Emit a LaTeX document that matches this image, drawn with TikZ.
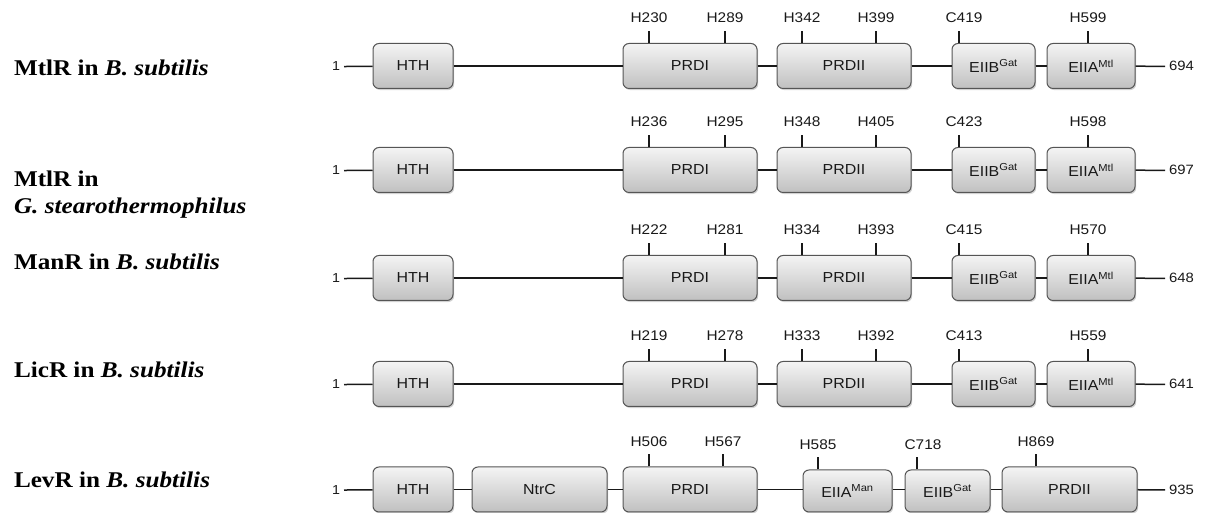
\documentclass[tikz,border=0pt]{standalone}
\usepackage{fontspec}
\setmainfont{Liberation Serif}[FakeStretch=1.12]
\setsansfont{Liberation Sans}[FakeStretch=1.1]
\usetikzlibrary{shadows}

\definecolor{lineColor}{RGB}{25,25,25}
\definecolor{boxColor}{RGB}{85,85,85}
\definecolor{boxTop}{RGB}{244,244,244}
\definecolor{boxBottom}{RGB}{192,192,192}

\tikzset{
  dombox/.style={draw=boxColor, line width=1pt, rounded corners=6pt,
    top color=boxTop, bottom color=boxBottom, minimum height=45pt,
    inner sep=0pt, text=lineColor, font=\sffamily\fontsize{14.5}{14.5}\selectfont,
    drop shadow={shadow xshift=1.2pt, shadow yshift=-1.6pt, opacity=0.35}},
  linker/.style={draw=lineColor, line width=1.5pt},
  sitetick/.style={draw=lineColor, line width=1.3pt},
  sitelbl/.style={text=lineColor, anchor=base, inner sep=0pt, outer sep=0pt,
    font=\sffamily\fontsize{14}{14}\selectfont},
  startlbl/.style={text=lineColor, anchor=base east, inner xsep=4pt, inner ysep=0pt,
    outer sep=0pt, font=\sffamily\fontsize{13}{13}\selectfont},
  endlbl/.style={text=lineColor, anchor=base west, inner xsep=4pt, inner ysep=0pt,
    outer sep=0pt, font=\sffamily\fontsize{13.5}{13.5}\selectfont},
  species/.style={anchor=base west, inner sep=0pt, outer sep=0pt,
    font=\bfseries\fontsize{22.5}{27}\selectfont},
}

\begin{document}
\begin{tikzpicture}[x=1pt,y=1pt]
\path[use as bounding box,fill=white] (0,0) rectangle (1205,513);

% species names
\node[species] (sp1) at (14,437.5) {MtlR in \textit{B. subtilis}};
\node[species] (sp2a) at (14,326.5) {MtlR in};
\node[species] (sp2b) at (14,299) {\textit{G. stearothermophilus}};
\node[species] (sp3) at (14,243) {ManR in \textit{B. subtilis}};
\node[species] (sp4) at (14,135) {LicR in \textit{B. subtilis}};
\node[species] (sp5) at (14,25) {LevR in \textit{B. subtilis}};

% MtlR, B. subtilis
\node[startlbl] (r1start) at (344,442) {1};
\node[dombox, minimum width=80pt] (r1hth) at (413,447) {HTH};
\node[dombox, minimum width=134pt] (r1prdi) at (690,447) {PRDI};
\node[dombox, minimum width=134pt] (r1prdii) at (844,447) {PRDII};
\node[dombox, minimum width=83pt] (r1eiib) at (993.5,447) {EIIB\textsuperscript{Gat}};
\node[dombox, minimum width=88pt] (r1eiia) at (1091,447) {EIIA\textsuperscript{Mtl}};
\node[endlbl] (r1end) at (1165,442) {694};
\draw[linker] (r1start.east) -- (r1hth);
\draw[linker] (r1hth) -- (r1prdi);
\draw[linker] (r1prdi) -- (r1prdii);
\draw[linker] (r1prdii) -- (r1eiib);
\draw[linker] (r1eiib) -- (r1eiia);
\draw[linker] (r1eiia) -- (r1end.west);
\node[sitelbl] (r1s1) at (649,490) {H230};
\node[sitelbl] (r1s2) at (725,490) {H289};
\node[sitelbl] (r1s3) at (802,490) {H342};
\node[sitelbl] (r1s4) at (876,490) {H399};
\node[sitelbl] (r1s5) at (964,490) {C419};
\node[sitelbl] (r1s6) at (1088,490) {H599};
\draw[sitetick] (r1prdi.north -| r1s1) -- ++(0,12);
\draw[sitetick] (r1prdi.north -| r1s2) -- ++(0,12);
\draw[sitetick] (r1prdii.north -| r1s3) -- ++(0,12);
\draw[sitetick] (r1prdii.north -| r1s4) -- ++(0,12);
\draw[sitetick] (r1eiib.north -| 959,0) -- ++(0,12);
\draw[sitetick] (r1eiia.north -| r1s6) -- ++(0,12);

% MtlR, G. stearothermophilus
\node[startlbl] (r2start) at (344,338) {1};
\node[dombox, minimum width=80pt] (r2hth) at (413,343) {HTH};
\node[dombox, minimum width=134pt] (r2prdi) at (690,343) {PRDI};
\node[dombox, minimum width=134pt] (r2prdii) at (844,343) {PRDII};
\node[dombox, minimum width=83pt] (r2eiib) at (993.5,343) {EIIB\textsuperscript{Gat}};
\node[dombox, minimum width=88pt] (r2eiia) at (1091,343) {EIIA\textsuperscript{Mtl}};
\node[endlbl] (r2end) at (1165,338) {697};
\draw[linker] (r2start.east) -- (r2hth);
\draw[linker] (r2hth) -- (r2prdi);
\draw[linker] (r2prdi) -- (r2prdii);
\draw[linker] (r2prdii) -- (r2eiib);
\draw[linker] (r2eiib) -- (r2eiia);
\draw[linker] (r2eiia) -- (r2end.west);
\node[sitelbl] (r2s1) at (649,386) {H236};
\node[sitelbl] (r2s2) at (725,386) {H295};
\node[sitelbl] (r2s3) at (802,386) {H348};
\node[sitelbl] (r2s4) at (876,386) {H405};
\node[sitelbl] (r2s5) at (964,386) {C423};
\node[sitelbl] (r2s6) at (1088,386) {H598};
\draw[sitetick] (r2prdi.north -| r2s1) -- ++(0,12);
\draw[sitetick] (r2prdi.north -| r2s2) -- ++(0,12);
\draw[sitetick] (r2prdii.north -| r2s3) -- ++(0,12);
\draw[sitetick] (r2prdii.north -| r2s4) -- ++(0,12);
\draw[sitetick] (r2eiib.north -| 959,0) -- ++(0,12);
\draw[sitetick] (r2eiia.north -| r2s6) -- ++(0,12);

% ManR, B. subtilis
\node[startlbl] (r3start) at (344,230) {1};
\node[dombox, minimum width=80pt] (r3hth) at (413,235) {HTH};
\node[dombox, minimum width=134pt] (r3prdi) at (690,235) {PRDI};
\node[dombox, minimum width=134pt] (r3prdii) at (844,235) {PRDII};
\node[dombox, minimum width=83pt] (r3eiib) at (993.5,235) {EIIB\textsuperscript{Gat}};
\node[dombox, minimum width=88pt] (r3eiia) at (1091,235) {EIIA\textsuperscript{Mtl}};
\node[endlbl] (r3end) at (1165,230) {648};
\draw[linker] (r3start.east) -- (r3hth);
\draw[linker] (r3hth) -- (r3prdi);
\draw[linker] (r3prdi) -- (r3prdii);
\draw[linker] (r3prdii) -- (r3eiib);
\draw[linker] (r3eiib) -- (r3eiia);
\draw[linker] (r3eiia) -- (r3end.west);
\node[sitelbl] (r3s1) at (649,278) {H222};
\node[sitelbl] (r3s2) at (725,278) {H281};
\node[sitelbl] (r3s3) at (802,278) {H334};
\node[sitelbl] (r3s4) at (876,278) {H393};
\node[sitelbl] (r3s5) at (964,278) {C415};
\node[sitelbl] (r3s6) at (1088,278) {H570};
\draw[sitetick] (r3prdi.north -| r3s1) -- ++(0,12);
\draw[sitetick] (r3prdi.north -| r3s2) -- ++(0,12);
\draw[sitetick] (r3prdii.north -| r3s3) -- ++(0,12);
\draw[sitetick] (r3prdii.north -| r3s4) -- ++(0,12);
\draw[sitetick] (r3eiib.north -| 959,0) -- ++(0,12);
\draw[sitetick] (r3eiia.north -| r3s6) -- ++(0,12);

% LicR, B. subtilis
\node[startlbl] (r4start) at (344,124) {1};
\node[dombox, minimum width=80pt] (r4hth) at (413,129) {HTH};
\node[dombox, minimum width=134pt] (r4prdi) at (690,129) {PRDI};
\node[dombox, minimum width=134pt] (r4prdii) at (844,129) {PRDII};
\node[dombox, minimum width=83pt] (r4eiib) at (993.5,129) {EIIB\textsuperscript{Gat}};
\node[dombox, minimum width=88pt] (r4eiia) at (1091,129) {EIIA\textsuperscript{Mtl}};
\node[endlbl] (r4end) at (1165,124) {641};
\draw[linker] (r4start.east) -- (r4hth);
\draw[linker] (r4hth) -- (r4prdi);
\draw[linker] (r4prdi) -- (r4prdii);
\draw[linker] (r4prdii) -- (r4eiib);
\draw[linker] (r4eiib) -- (r4eiia);
\draw[linker] (r4eiia) -- (r4end.west);
\node[sitelbl] (r4s1) at (649,172) {H219};
\node[sitelbl] (r4s2) at (725,172) {H278};
\node[sitelbl] (r4s3) at (802,172) {H333};
\node[sitelbl] (r4s4) at (876,172) {H392};
\node[sitelbl] (r4s5) at (964,172) {C413};
\node[sitelbl] (r4s6) at (1088,172) {H559};
\draw[sitetick] (r4prdi.north -| r4s1) -- ++(0,12);
\draw[sitetick] (r4prdi.north -| r4s2) -- ++(0,12);
\draw[sitetick] (r4prdii.north -| r4s3) -- ++(0,12);
\draw[sitetick] (r4prdii.north -| r4s4) -- ++(0,12);
\draw[sitetick] (r4eiib.north -| 959,0) -- ++(0,12);
\draw[sitetick] (r4eiia.north -| r4s6) -- ++(0,12);

% LevR, B. subtilis
\node[startlbl] (r5start) at (344,18.5) {1};
\node[dombox, minimum width=80pt] (r5hth) at (413,23.5) {HTH};
\node[dombox, minimum width=135pt] (r5ntrc) at (539.5,23.5) {NtrC};
\node[dombox, minimum width=134pt] (r5prdi) at (690,23.5) {PRDI};
\node[dombox, minimum width=89pt, minimum height=42pt] (r5eiia) at (847.5,22) {EIIA\textsuperscript{Man}};
\node[dombox, minimum width=85pt, minimum height=42pt] (r5eiib) at (947.5,22) {EIIB\textsuperscript{Gat}};
\node[dombox, minimum width=135pt] (r5prdii) at (1069.5,23.5) {PRDII};
\node[endlbl] (r5end) at (1165,18.5) {935};
\draw[linker] (r5start.east) -- (r5hth);
\draw[linker] (r5hth) -- (r5ntrc);
\draw[linker] (r5ntrc) -- (r5prdi);
\draw[linker] (r5prdi.east) -- (r5eiia.west |- r5prdi.east);
\draw[linker] (r5eiia.east |- r5prdi.east) -- (r5eiib.west |- r5prdi.east);
\draw[linker] (r5eiib.east |- r5prdi.east) -- (r5prdii.west);
\draw[linker] (r5prdii) -- (r5end.west);
\node[sitelbl] (r5s1) at (649,66.5) {H506};
\node[sitelbl] (r5s2) at (723,66.5) {H567};
\node[sitelbl] (r5s3) at (818,63.5) {H585};
\node[sitelbl] (r5s4) at (923,63.5) {C718};
\node[sitelbl] (r5s5) at (1036,66.5) {H869};
\draw[sitetick] (r5prdi.north -| r5s1) -- ++(0,12);
\draw[sitetick] (r5prdi.north -| r5s2) -- ++(0,12);
\draw[sitetick] (r5eiia.north -| r5s3) -- ++(0,12);
\draw[sitetick] (r5eiib.north -| 917,0) -- ++(0,12);
\draw[sitetick] (r5prdii.north -| r5s5) -- ++(0,12);
\end{tikzpicture}
\end{document}
